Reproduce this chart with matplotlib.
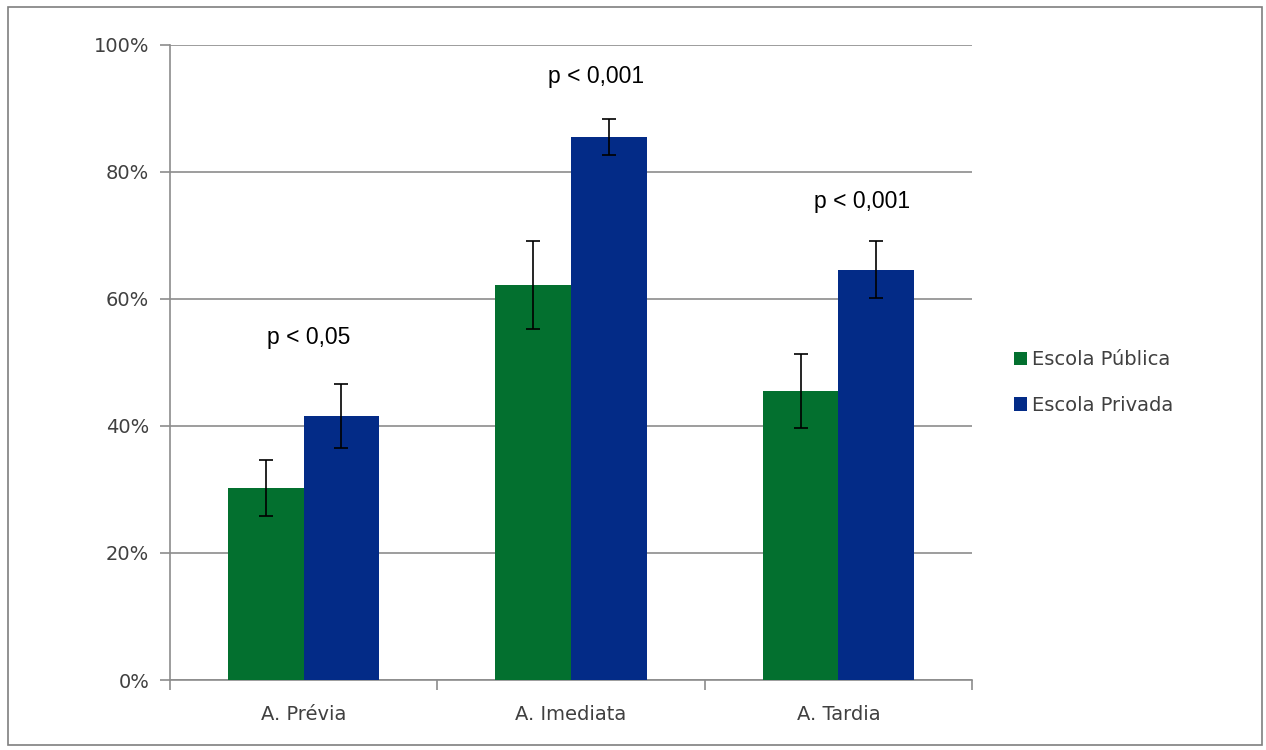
import matplotlib
matplotlib.use("Agg")
import matplotlib.pyplot as plt
import numpy as np
from matplotlib.patches import Rectangle

categories = ["A. Prévia", "A. Imediata", "A. Tardia"]
series = ["Escola Pública", "Escola Privada"]
publica = [30.2, 62.2, 45.5]
publica_err = [4.4, 7.0, 5.8]
privada = [41.6, 85.5, 64.6]
privada_err = [5.0, 2.8, 4.5]
p_labels = ["p < 0,05", "p < 0,001", "p < 0,001"]
p_label_y = [54.0, 95.1, 75.3]
y_ticks = [0, 20, 40, 60, 80, 100]

green = "#03702f"
blue = "#032b87"
grid_c = "#8c8c8c"
text_c = "#404040"

fig = plt.figure(figsize=(12.66, 7.5), dpi=100)
ax = fig.add_axes([170 / 1266, 1 - 680 / 750, (972 - 170) / 1266, (680 - 45) / 750])

x = np.arange(len(categories))
w = 0.283
err_kw = dict(ecolor="black", elinewidth=1.2, capsize=4.8, capthick=1.2)
ax.bar(x - w / 2, publica, w, color=green, label=series[0], yerr=publica_err,
       error_kw=err_kw, zorder=3)
ax.bar(x + w / 2, privada, w, color=blue, label=series[1], yerr=privada_err,
       error_kw=err_kw, zorder=3)

for xi, lab, yl, dx in zip(x, p_labels, p_label_y, [0.02, 0.095, 0.09]):
    ax.text(xi + dx, yl, lab, ha="center", va="center", fontsize=16.5,
            family="Liberation Sans", color="black")

ax.set_xlim(-0.5, 2.5)
ax.set_ylim(0, 100)
ax.set_yticks(y_ticks)
ax.set_yticklabels([f"{t}%" for t in y_ticks], fontsize=14, color=text_c)
ax.set_xticks(x)
ax.set_xticklabels(categories, fontsize=14, color=text_c)
ax.tick_params(axis="x", length=0, pad=18)
ax.tick_params(axis="y", length=7, color=grid_c, width=1.2, pad=8)
# category boundary ticks on the x axis
ax.set_xticks([-0.5, 0.5, 1.5, 2.5], minor=True)
ax.tick_params(axis="x", which="minor", length=7, color=grid_c, width=1.2)

ax.grid(axis="y", color=grid_c, linewidth=1.2, zorder=0)
ax.set_axisbelow(True)
for s in ["top", "right"]:
    ax.spines[s].set_visible(False)
for s in ["left", "bottom"]:
    ax.spines[s].set_color(grid_c)
    ax.spines[s].set_linewidth(1.2)

leg = fig.legend(loc="upper left", bbox_to_anchor=(996 / 1266, 1 - 333 / 750),
                 frameon=False, fontsize=14, handlelength=0.7, handleheight=0.7,
                 handletextpad=0.25, labelspacing=1.35)
for t in leg.get_texts():
    t.set_color(text_c)

fig.patches.append(Rectangle((8 / 1266, 5 / 750), 1254 / 1266, 738 / 750,
                             transform=fig.transFigure, fill=False,
                             edgecolor="#7f7f7f", linewidth=1.2))

fig.savefig("out.png", dpi=100, facecolor="white")
